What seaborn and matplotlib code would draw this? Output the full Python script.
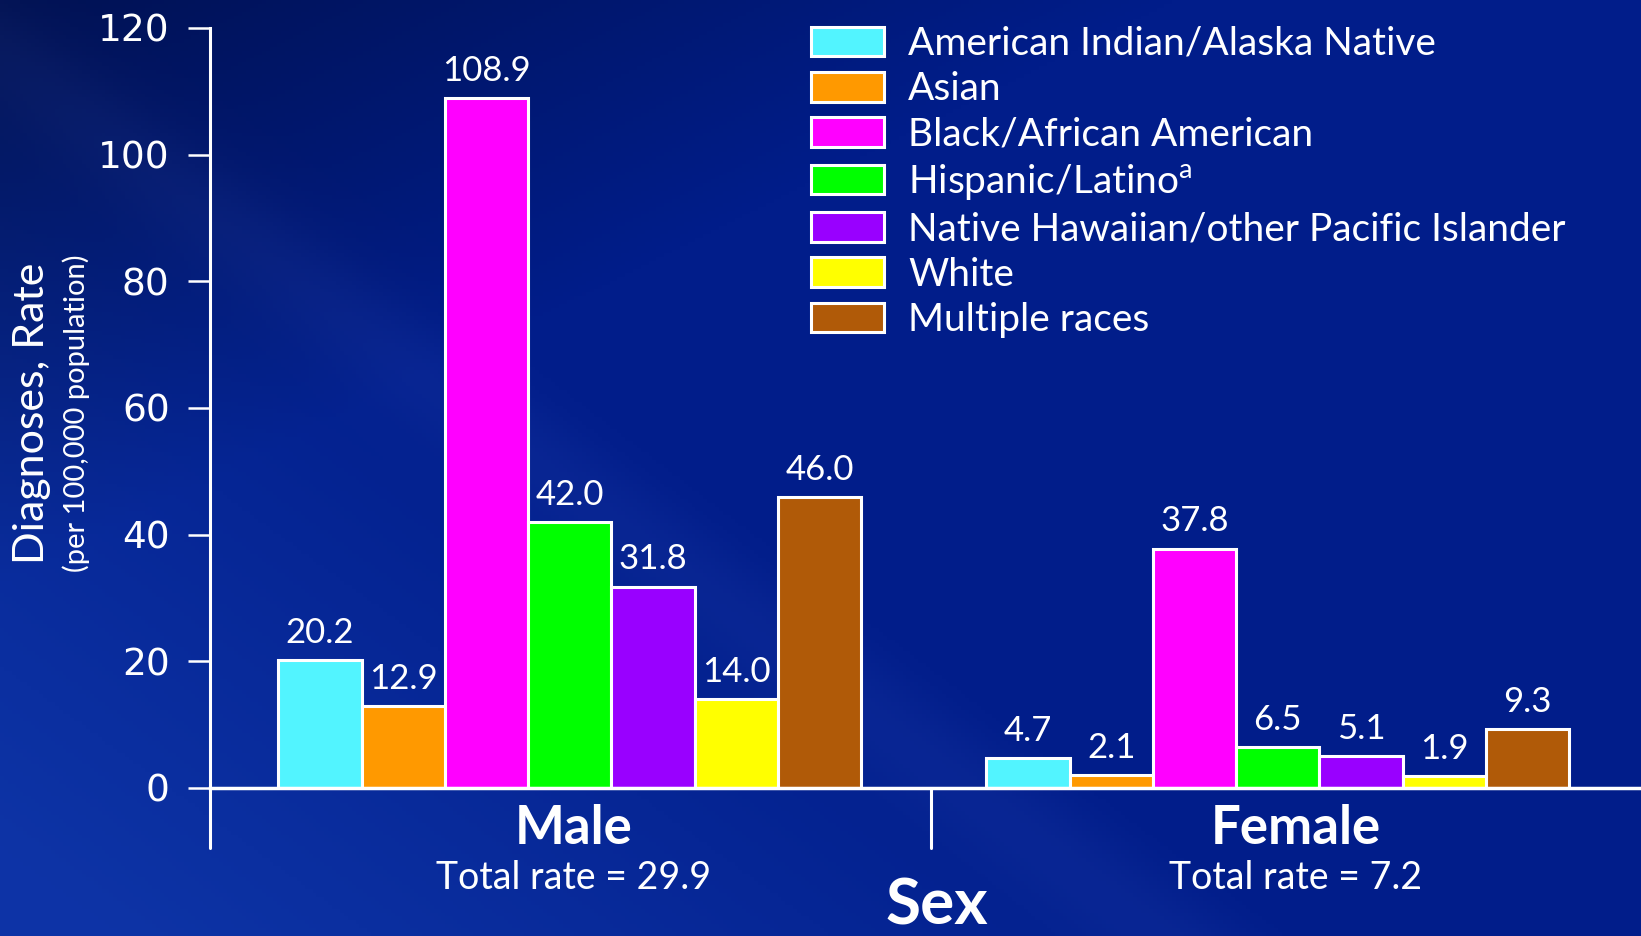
import matplotlib
matplotlib.use('Agg')
import matplotlib.pyplot as plt
import matplotlib.transforms as mtransforms
import numpy as np
import pandas as pd
import seaborn as sns

# data
sexes = ['Male', 'Female']
races = ['American Indian/Alaska Native', 'Asian', 'Black/African American',
         'Hispanic/Latino$^{\\mathregular{a}}$', 'Native Hawaiian/other Pacific Islander',
         'White', 'Multiple races']
male_rates = [20.2, 12.9, 108.9, 42.0, 31.8, 14.0, 46.0]
female_rates = [4.7, 2.1, 37.8, 6.5, 5.1, 1.9, 9.3]
total_rates = ['Total rate = 29.9', 'Total rate = 7.2']
race_colors = ['#52F4FF', '#FF9900', '#FF00FF', '#00FF00', '#9900FF', '#FFFF00', '#B05A08']
yticks = [0, 20, 40, 60, 80, 100, 120]

df = pd.DataFrame({
    'sex': ['Male'] * len(races) + ['Female'] * len(races),
    'race': races + races,
    'rate': male_rates + female_rates,
})

sns.set_style('white')
plt.rcParams['font.family'] = ['Lato', 'DejaVu Sans']
plt.rcParams['mathtext.fontset'] = 'custom'
plt.rcParams['mathtext.rm'] = 'Lato'

W, H = 1641, 936
fig = plt.figure(figsize=(W / 100, H / 100), dpi=100)

# background gradient
bg = fig.add_axes([0, 0, 1, 1], zorder=-10)
yy, xx = np.mgrid[0:1:240j, 0:1:420j]
base = np.array([0x01, 0x1d, 0x8a]) / 255.0
img = np.ones((240, 420, 3)) * base
dark = np.clip(1 - (xx * 1.4 + yy * 1.6), 0, 1)
img = img * (1 - 0.4 * dark[..., None])
light = np.clip(yy * 1.1 - xx * 1.4, 0, 1)
img = img + light[..., None] * np.array([0.05, 0.09, 0.11])
streak = np.exp(-((yy * 0.9 - xx * 1.2 - 0.05) ** 2) / 0.004)
img = img + 0.025 * streak[..., None]
bg.imshow(np.clip(img, 0, 1), aspect='auto', extent=[0, 1, 0, 1])
bg.axis('off')

ax_l, ax_r = 210 / W, 1.0
ax_b, ax_t = 1 - 788 / H, 1 - 28 / H
ax = fig.add_axes([ax_l, ax_b, ax_r - ax_l, ax_t - ax_b])
ax.patch.set_alpha(0)

sns.barplot(data=df, x='sex', y='rate', hue='race', palette=race_colors,
            width=0.823, edgecolor='white', linewidth=2.2, saturation=1,
            ax=ax, legend=True)

for cont in ax.containers:
    ax.bar_label(cont, fmt='%.1f', padding=8, color='white', fontsize=25)

ax.set_ylim(0, 120)
ax.set_xlim(-0.508, 1.513)
ax.set_yticks(yticks)
ax.set_yticklabels([str(v) for v in yticks], fontfamily='DejaVu Sans', fontsize=27, color='white')
ax.tick_params(axis='y', length=16, width=1.8, color='white', pad=13, left=True)
ax.set_xticks([])
ax.set_xlabel('')
ax.set_ylabel('')
for s in ['top', 'right']:
    ax.spines[s].set_visible(False)
ax.spines['left'].set_color('white')
ax.spines['left'].set_linewidth(2.2)
ax.spines['bottom'].set_color('white')
ax.spines['bottom'].set_linewidth(2.5)

# extend axis below zero and group separator
axh_px = 788 - 28
drop = (848 - 788) / axh_px
ax.plot([0, 0], [0, -drop], transform=ax.transAxes, color='white', lw=2.2, clip_on=False)
trans = mtransforms.blended_transform_factory(ax.transData, ax.transAxes)
ax.plot([0.51, 0.51], [0, -drop], transform=trans, color='white', lw=2.2, clip_on=False)

# group labels
label_x = [0.005, 1.025]
for lx, sx, tr in zip(label_x, sexes, total_rates):
    ax.text(lx, -(828 - 788) / axh_px, sx, transform=trans, ha='center', va='center',
            fontsize=38, fontweight='bold', color='white')
    ax.text(lx, -(878 - 788) / axh_px, tr, transform=trans, ha='center', va='center',
            fontsize=27, color='white')
fig.text(937 / W, 1 - 906 / H, 'Sex', ha='center', va='center', fontsize=46,
         fontweight='bold', color='white')

# y label
fig.text(32 / W, 1 - 413 / H, 'Diagnoses, Rate', rotation=90, ha='center', va='center',
         fontsize=31, color='white')
fig.text(76 / W, 1 - 413 / H, '(per 100,000 population)', rotation=90, ha='center',
         va='center', fontsize=21, color='white')

handles, labels = ax.get_legend_handles_labels()
ax.get_legend().remove()
leg = fig.legend(handles, labels, loc='upper left', bbox_to_anchor=(811 / W, 1 - 26 / H),
                 frameon=False, fontsize=28, labelcolor='white', handlelength=1.88,
                 handleheight=0.8, handletextpad=0.62, labelspacing=0.24, borderpad=0,
                 borderaxespad=0)

fig.savefig('out.png', dpi=100)
